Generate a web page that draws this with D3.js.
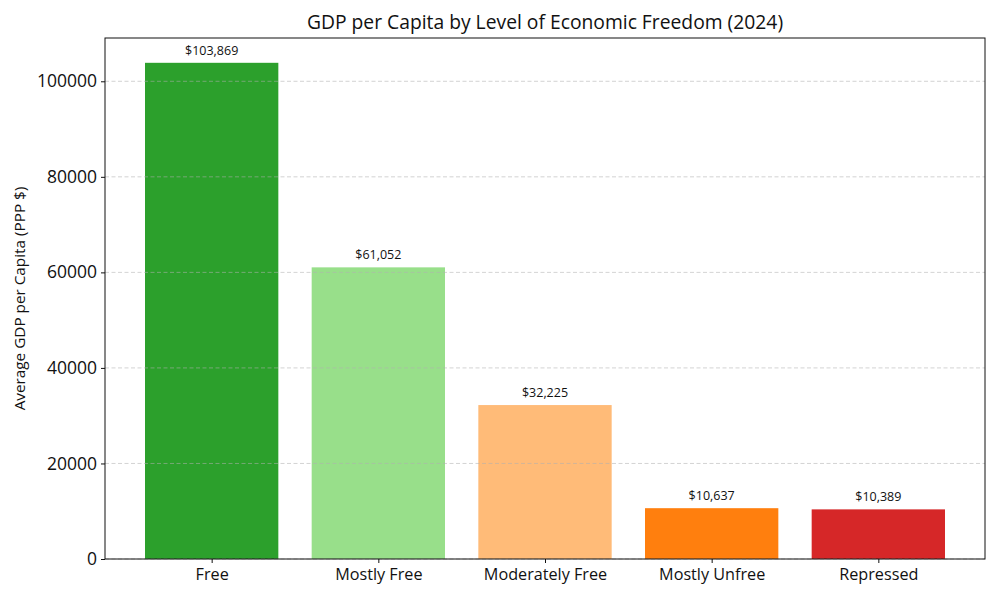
<!DOCTYPE html>
<html>
<head>
<meta charset="utf-8">
<script src="https://cdn.jsdelivr.net/npm/d3@7"></script>
<style>
  body { margin: 0; background: #fff; }
  text { font-family: "Open Sans", Roboto, sans-serif; fill: #111; }
</style>
</head>
<body>
<svg id="chart" width="1000" height="600"></svg>
<script>
const categories = ["Free", "Mostly Free", "Moderately Free", "Mostly Unfree", "Repressed"];
const values = [103869, 61052, 32225, 10637, 10389];
const colors = ["#2ca02c", "#98df8a", "#ffbb78", "#ff7f0e", "#d62728"];
const yTicks = [0, 20000, 40000, 60000, 80000, 100000];
const title = "GDP per Capita by Level of Economic Freedom (2024)";
const yLabel = "Average GDP per Capita (PPP $)";

const FONT = '"Open Sans", Roboto, sans-serif';
const svg = d3.select("#chart");
const m = { left: 105, right: 985, top: 38, bottom: 559 };

const x = d3.scaleLinear().domain([-0.64, 4.64]).range([m.left, m.right]);
const y = d3.scaleLinear().domain([0, d3.max(values) * 1.05]).range([m.bottom, m.top]);
const bw = x(0.4) - x(-0.4);

// bars
svg.append("g").selectAll("rect").data(values).join("rect")
  .attr("x", (d, i) => x(i) - bw / 2)
  .attr("y", d => y(d))
  .attr("width", bw)
  .attr("height", d => y(0) - y(d))
  .attr("fill", (d, i) => colors[i]);

// grid (over bars, translucent)
svg.append("g").selectAll("line").data(yTicks).join("line")
  .attr("x1", m.left).attr("x2", m.right)
  .attr("y1", d => y(d)).attr("y2", d => y(d))
  .attr("stroke", "#b0b0b0").attr("stroke-opacity", 0.7)
  .attr("stroke-width", 0.8).attr("stroke-dasharray", "4,2.5");

// value labels
svg.append("g").selectAll("text").data(values).join("text")
  .attr("x", (d, i) => x(i))
  .attr("y", d => y(d) - 8)
  .attr("text-anchor", "middle")
  .attr("font-size", 12.5)
  .text(d => "$" + d3.format(",")(d));

// axes
const yAxis = d3.axisLeft(y).tickValues(yTicks).tickFormat(d3.format("d")).tickSize(4).tickPadding(4);
const gy = svg.append("g").attr("transform", `translate(${m.left},0)`).call(yAxis);
gy.select(".domain").remove();
gy.selectAll("text").attr("font-size", 17.5).style("font-family", FONT).attr("fill", "#111");
gy.selectAll("line").attr("stroke", "#111");

const xAxis = d3.axisBottom(x).tickValues(d3.range(categories.length)).tickFormat(i => categories[i]).tickSize(4).tickPadding(5);
const gx = svg.append("g").attr("transform", `translate(0,${m.bottom})`).call(xAxis);
gx.select(".domain").remove();
gx.selectAll("text").attr("font-size", 16.2).style("font-family", FONT).attr("fill", "#111");
gx.selectAll("line").attr("stroke", "#111");

// frame
svg.append("rect").attr("x", m.left).attr("y", m.top)
  .attr("width", m.right - m.left).attr("height", m.bottom - m.top)
  .attr("fill", "none").attr("stroke", "#111").attr("stroke-width", 1);

// title
svg.append("text").attr("x", (m.left + m.right) / 2).attr("y", 29)
  .attr("text-anchor", "middle").attr("font-size", 19.3).text(title);

// y label
svg.append("text").attr("transform", `translate(25,${(m.top + m.bottom) / 2}) rotate(-90)`)
  .attr("text-anchor", "middle").attr("font-size", 15.3).text(yLabel);
</script>
</body>
</html>
